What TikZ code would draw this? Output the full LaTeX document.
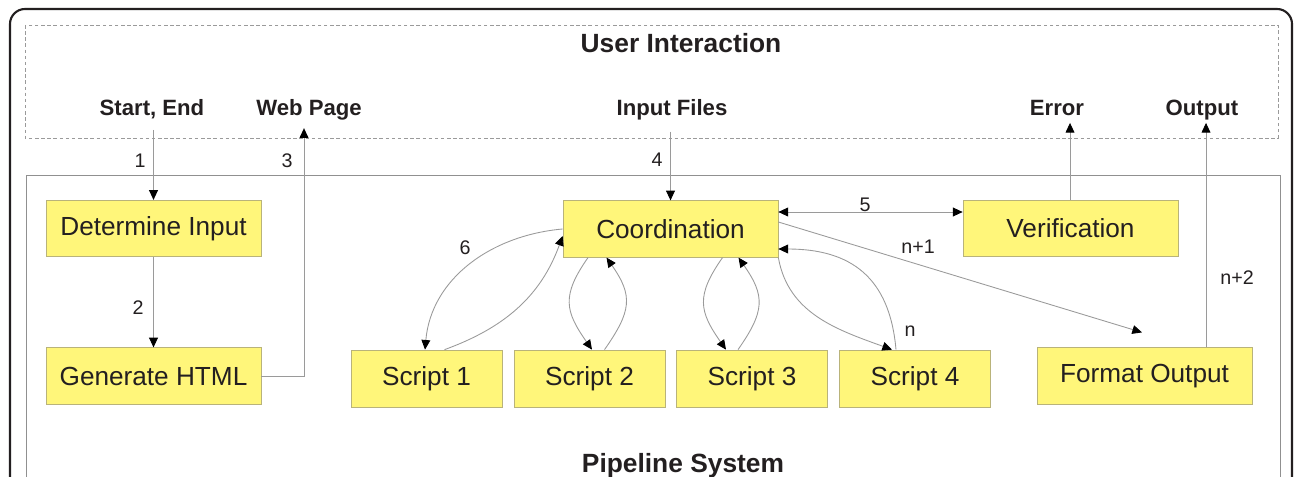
\documentclass[tikz,border=0pt]{standalone}
\usepackage{fontspec}
\setmainfont{Liberation Sans}
\usetikzlibrary{arrows.meta}
\definecolor{boxfill}{HTML}{FFF67A}
\definecolor{boxline}{HTML}{B9B37A}
\definecolor{linegray}{HTML}{9A9A9A}
\definecolor{inkdark}{HTML}{231F20}
\begin{document}
\begin{tikzpicture}[x=0.2mm, y=0.2mm, text=inkdark,
	>={Triangle[length=5.5pt,width=5pt,color=black]},
	proc/.style={draw=boxline, fill=boxfill, minimum width=43mm, minimum height=11.3mm, inner sep=0pt, font=\fontsize{14.9}{16}\selectfont},
	script/.style={proc, minimum width=30.2mm, minimum height=11.4mm},
	lbl/.style={font=\bfseries\fontsize{12.6}{14}\selectfont, inner sep=0pt, text depth=0pt, outer sep=8.5pt, anchor=base},
	heading/.style={font=\bfseries\fontsize{15}{17}\selectfont, inner sep=0pt, anchor=base},
	num/.style={font=\fontsize{11.2}{13}\selectfont, inner sep=0pt},
	link/.style={draw=linegray, line width=0.5pt}]
	\clip (0,0) rectangle (1295,-477);
	% frames
	\draw[line width=1.2pt, draw=inkdark, rounded corners=3mm] (10,-9) rectangle (1292,-560);
	\draw[draw=linegray, line width=0.5pt, dash pattern=on 2pt off 1.5pt] (25,-25) rectangle (1278,-138);
	\draw[draw=linegray!110, line width=0.5pt] (26,-175) rectangle (1280,-560);

	% user side
	\node (userTitle) at (681,-53)	[heading]	{User Interaction};
	\node (startEnd) at (152,-115)	[lbl]	{Start, End};
	\node (webPage) at (309,-115)	[lbl, outer sep=7.5pt]	{Web Page};
	\node (inFiles) at (672,-115)	[lbl, outer sep=9.5pt]	{Input Files};
	\node (errLbl) at (1057,-115)	[lbl, outer sep=4.5pt]	{Error};
	\node (outLbl) at (1202,-115)	[lbl, outer sep=4.5pt]	{Output};

	% pipeline side
	\node (detIn) at (153.5,-228.5)	[proc]	{Determine Input};
	\node (genHtml) at (153.5,-376)	[proc]	{Generate HTML};
	\node (coord) at (670.5,-229)	[proc]	{Coordination};
	\node (verif) at (1070.5,-228.5)	[proc]	{Verification};
	\node (sc1) at (426.5,-378.5)	[script]	{Script 1};
	\node (sc2) at (589.5,-378.5)	[script]	{Script 2};
	\node (sc3) at (752,-378.5)	[script]	{Script 3};
	\node (sc4) at (915,-378.5)	[script]	{Script 4};
	\node (fmtOut) at (1144.5,-376)	[proc]	{Format Output};
	\node (pipeTitle) at (683,-472)	[heading]	{Pipeline System};

	% steps
	\draw[link,->] (detIn.north |- startEnd.south) -- (detIn.north);
	\draw[link,->] (detIn.south) -- (genHtml.north);
	\draw[link,->] (genHtml.east) -| ([xshift=-1mm]webPage.south);
	\draw[link,->] (coord.north |- inFiles.south) -- (coord.north);
	\draw[link,<->] ([yshift=3.4mm]coord.east) -- ([yshift=3.4mm]coord.east -| verif.west);
	\draw[link,->] ([xshift=-0.1mm]verif.north) -- ([xshift=-0.1mm]verif.north |- errLbl.south);
	\draw[link,->] (coord.west) to[out=185,in=85] ([xshift=-0.3mm]sc1.north);
	\draw[link,->] ([xshift=3.6mm]sc1.north) to[out=20,in=-110] ([yshift=-1.4mm]coord.west);
	\draw[link,->] ([xshift=-16.5mm]coord.south) to[out=-125,in=125,looseness=1.3] ([xshift=0.5mm]sc2.north);
	\draw[link,->] ([xshift=3mm]sc2.north) to[out=55,in=-55,looseness=1.3] ([xshift=-12.8mm]coord.south);
	\draw[link,->] ([xshift=10.4mm]coord.south) to[out=-125,in=125,looseness=1.3] ([xshift=-5.2mm]sc3.north);
	\draw[link,->] ([xshift=-2.8mm]sc3.north) to[out=55,in=-55,looseness=1.3] ([xshift=13.6mm]coord.south);
	\draw[link,->] (coord.south east) to[out=-80,in=160] ([xshift=-4.6mm]sc4.north);
	\draw[link,->] ([xshift=-3.8mm]sc4.north) to[out=95,in=0,looseness=1.2] ([yshift=-4mm]coord.east);
	\draw[link,->] ([yshift=1.4mm]coord.east) -- ([shift={(-0.5mm,3mm)}]fmtOut.north);
	\draw[link,->] ([xshift=12.3mm]fmtOut.north) -- ([xshift=12.3mm]fmtOut.north |- outLbl.south);

	% step numbers
	\node (n1) at (140,-161)	[num]	{1};
	\node (n2) at (138,-308)	[num]	{2};
	\node (n3) at (287,-161)	[num]	{3};
	\node (n4) at (657,-160)	[num]	{4};
	\node (n5) at (865,-205)	[num]	{5};
	\node (n6) at (465,-248)	[num]	{6};
	\node (nn) at (910,-331)	[num]	{n};
	\node (nn1) at (918,-247)	[num]	{n+1};
	\node (nn2) at (1237,-278)	[num]	{n+2};
\end{tikzpicture}
\end{document}
